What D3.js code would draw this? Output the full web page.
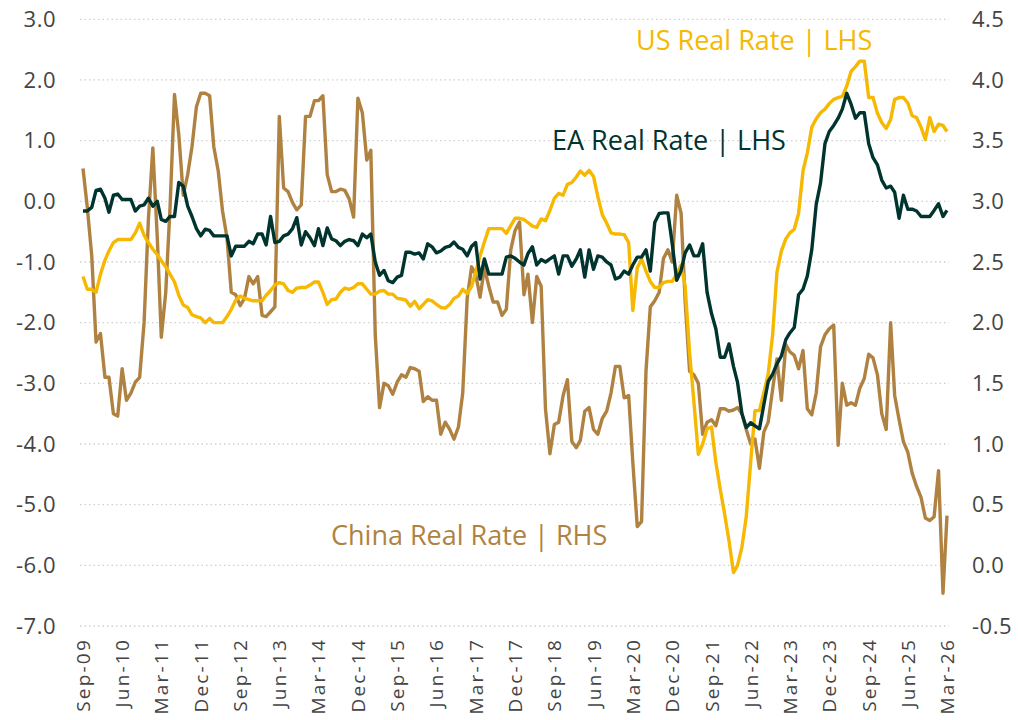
<!DOCTYPE html>
<html>
<head>
<meta charset="utf-8">
<script src="https://cdn.jsdelivr.net/npm/d3@7"></script>
<style>
  body { margin: 0; background: #fff; }
  svg text { font-family: "Open Sans", "Noto Sans", sans-serif; }
</style>
</head>
<body>
<script>
// monthly, Sep-09 .. Mar-26
var startMonth = new Date(2009, 8, 1);
var endMonth = new Date(2026, 2, 1);

var tickLabels = ["Sep-09","Jun-10","Mar-11","Dec-11","Sep-12","Jun-13","Mar-14","Dec-14","Sep-15","Jun-16",
  "Mar-17","Dec-17","Sep-18","Jun-19","Mar-20","Dec-20","Sep-21","Jun-22","Mar-23","Dec-23","Sep-24","Jun-25","Mar-26"];
var leftTicks = [3, 2, 1, 0, -1, -2, -3, -4, -5, -6, -7];
var rightTicks = [4.5, 4, 3.5, 3, 2.5, 2, 1.5, 1, 0.5, 0, -0.5];

// US real rate (LHS)
var usRate = [-1.24,-1.45,-1.45,-1.5,-1.2,-0.97,-0.82,-0.68,-0.63,-0.63,-0.63,-0.63,-0.52,-0.36,-0.56,-0.68,-0.79,-0.88,-0.98,-1.08,
  -1.2,-1.33,-1.55,-1.71,-1.75,-1.87,-1.9,-1.92,-2.0,-1.93,-2.0,-2.0,-2.0,-1.9,-1.78,-1.63,-1.56,-1.6,-1.62,-1.64,
  -1.64,-1.64,-1.55,-1.47,-1.38,-1.34,-1.36,-1.47,-1.5,-1.43,-1.42,-1.42,-1.38,-1.33,-1.33,-1.5,-1.7,-1.62,-1.61,-1.5,
  -1.43,-1.45,-1.42,-1.36,-1.36,-1.45,-1.53,-1.53,-1.48,-1.47,-1.53,-1.53,-1.6,-1.61,-1.63,-1.73,-1.65,-1.77,-1.7,-1.62,
  -1.64,-1.7,-1.75,-1.76,-1.7,-1.6,-1.56,-1.45,-1.52,-1.4,-1.17,-0.9,-0.67,-0.45,-0.45,-0.45,-0.45,-0.53,-0.4,-0.28,
  -0.28,-0.3,-0.35,-0.41,-0.43,-0.29,-0.32,-0.15,0.05,0.13,0.1,0.28,0.31,0.4,0.5,0.43,0.51,0.41,0.08,-0.22,
  -0.36,-0.52,-0.54,-0.54,-0.55,-0.68,-1.8,-1.1,-0.95,-1.15,-1.32,-1.42,-1.42,-1.34,-1.32,-1.32,-1.2,-1.05,-1.4,-2.5,
  -3.3,-4.17,-4.0,-3.75,-3.72,-4.3,-4.75,-5.15,-5.6,-6.12,-6.0,-5.7,-5.2,-4.3,-3.45,-3.45,-3.15,-2.85,-2.2,-1.17,
  -0.82,-0.62,-0.52,-0.46,-0.2,0.5,0.8,1.22,1.36,1.46,1.52,1.61,1.68,1.71,1.73,1.9,2.14,2.22,2.31,2.31,
  1.71,1.71,1.45,1.3,1.2,1.35,1.68,1.71,1.71,1.62,1.41,1.38,1.22,1.02,1.38,1.15,1.27,1.25,1.15];

// EA real rate (LHS)
var eaRate = [-0.16,-0.16,-0.1,0.18,0.2,0.05,-0.18,0.1,0.12,0.03,0.03,0.03,-0.16,-0.08,-0.06,0.05,-0.08,0.0,-0.3,-0.33,
  -0.25,-0.25,0.31,0.25,-0.08,-0.25,-0.45,-0.57,-0.46,-0.48,-0.57,-0.57,-0.57,-0.57,-0.9,-0.74,-0.74,-0.74,-0.66,-0.7,
  -0.54,-0.54,-0.72,-0.25,-0.68,-0.66,-0.57,-0.54,-0.45,-0.27,-0.72,-0.5,-0.6,-0.73,-0.45,-0.73,-0.44,-0.62,-0.65,-0.73,
  -0.66,-0.63,-0.65,-0.73,-0.54,-0.6,-0.54,-1.0,-1.22,-1.14,-1.31,-1.34,-1.25,-1.22,-0.84,-0.84,-0.87,-0.85,-0.95,-0.7,
  -0.75,-0.85,-0.82,-0.76,-0.74,-0.67,-0.76,-0.79,-0.9,-0.74,-0.68,-1.28,-0.95,-1.2,-1.2,-1.2,-1.2,-0.92,-0.9,-0.94,
  -1.0,-1.05,-0.86,-0.75,-1.05,-0.96,-1.0,-0.95,-0.9,-1.2,-0.9,-0.9,-1.07,-0.95,-0.8,-1.25,-0.8,-1.12,-0.9,-0.92,
  -1.0,-1.05,-1.28,-1.25,-1.15,-1.2,-1.05,-0.92,-0.92,-0.8,-1.15,-0.35,-0.2,-0.19,-0.19,-0.7,-1.3,-1.14,-0.85,-0.72,
  -0.9,-0.9,-0.7,-1.5,-1.85,-2.1,-2.57,-2.57,-2.35,-2.72,-2.98,-3.5,-3.73,-3.65,-3.7,-3.75,-3.35,-2.97,-2.85,-2.68,
  -2.55,-2.28,-2.17,-2.08,-1.54,-1.45,-1.23,-0.8,-0.05,0.3,0.95,1.15,1.25,1.37,1.52,1.78,1.6,1.37,1.46,1.46,
  0.95,0.72,0.6,0.35,0.22,0.25,0.15,-0.28,0.1,-0.13,-0.13,-0.16,-0.25,-0.25,-0.25,-0.15,-0.04,-0.25,-0.15];

// China real rate (RHS)
var chinaRate = [3.27,2.95,2.55,1.84,1.91,1.55,1.55,1.25,1.23,1.62,1.36,1.42,1.51,1.55,2.0,2.85,3.44,2.7,1.88,2.25,
  2.95,3.88,3.55,3.05,3.22,3.45,3.78,3.89,3.89,3.87,3.45,3.25,2.92,2.7,2.25,2.23,2.14,2.2,2.38,2.32,
  2.38,2.06,2.05,2.09,2.13,3.7,3.11,3.08,2.99,2.93,2.97,3.7,3.7,3.83,3.83,3.87,3.22,3.08,3.08,3.1,
  3.09,3.02,2.87,3.85,3.73,3.34,3.42,1.9,1.3,1.5,1.48,1.41,1.51,1.57,1.55,1.63,1.62,1.6,1.35,1.39,
  1.36,1.36,1.08,1.18,1.12,1.04,1.14,1.42,2.2,2.46,2.4,2.21,2.45,2.3,2.17,2.17,2.06,2.11,2.6,2.76,
  2.83,2.23,2.4,2.0,2.38,2.3,1.29,0.92,1.16,1.18,1.4,1.53,1.02,0.97,1.03,1.27,1.3,1.12,1.08,1.21,
  1.27,1.42,1.64,1.64,1.38,1.4,0.85,0.32,0.36,1.6,2.13,2.18,2.25,2.53,2.6,2.5,3.05,2.9,2.18,1.6,
  1.57,1.5,1.08,1.18,1.2,1.15,1.29,1.29,1.27,1.28,1.3,1.25,1.12,1.0,1.04,0.8,1.1,1.18,1.45,1.7,
  1.36,1.82,1.76,1.73,1.62,1.77,1.29,1.24,1.42,1.8,1.9,1.95,1.98,0.99,1.5,1.32,1.34,1.32,1.46,1.54,
  1.74,1.71,1.57,1.25,1.12,2.0,1.4,1.2,1.02,0.93,0.76,0.65,0.56,0.39,0.37,0.4,0.78,-0.23,0.41];

var months = d3.timeMonth.range(startMonth, d3.timeMonth.offset(endMonth, 1));

var width = 1018, height = 720;
var plotLeft = 83, plotRight = 947, plotTop = 19.3, plotBottom = 626;

var svg = d3.select("body").append("svg")
  .attr("width", width)
  .attr("height", height);

var x = d3.scaleTime().domain([startMonth, endMonth]).range([plotLeft, plotRight]);
var yL = d3.scaleLinear().domain([-7, 3]).range([plotBottom, plotTop]);
var yR = d3.scaleLinear().domain([-0.5, 4.5]).range([plotBottom, plotTop]);

// plain hyphen for negatives, like the original
var fmt = function (d) { return d.toFixed(1); };

// gridlines
svg.append("g").selectAll("line")
  .data(leftTicks)
  .enter().append("line")
  .attr("x1", 80).attr("x2", 949)
  .attr("y1", function (d) { return yL(d); })
  .attr("y2", function (d) { return yL(d); })
  .attr("stroke", "#cfcfcf")
  .attr("stroke-width", 1.3)
  .attr("stroke-dasharray", "1.5,3");

// left axis
var axL = svg.append("g")
  .attr("transform", "translate(56,0)")
  .call(d3.axisLeft(yL).tickValues(leftTicks).tickFormat(fmt).tickSize(0).tickPadding(0));
axL.select(".domain").remove();
axL.selectAll("text").attr("font-size", 22).attr("fill", "#444").attr("font-family", "Open Sans")
  .attr("letter-spacing", 0.5);

// right axis
var axR = svg.append("g")
  .attr("transform", "translate(972,0)")
  .call(d3.axisRight(yR).tickValues(rightTicks).tickFormat(fmt).tickSize(0).tickPadding(0));
axR.select(".domain").remove();
axR.selectAll("text").attr("font-size", 22).attr("fill", "#444").attr("font-family", "Open Sans")
  .attr("letter-spacing", 0.5);

// x labels, every 9 months
var tickDates = tickLabels.map(function (d, i) { return d3.timeMonth.offset(startMonth, i * 9); });
svg.append("g").selectAll("text")
  .data(tickDates)
  .enter().append("text")
  .attr("transform", function (d) { return "translate(" + (x(d) + 7) + ",638) rotate(-90)"; })
  .attr("text-anchor", "end")
  .attr("font-size", 19)
  .attr("letter-spacing", 2.2)
  .attr("fill", "#444")
  .text(function (d, i) { return tickLabels[i]; });

function drawLine(values, scale, color) {
  var line = d3.line()
    .x(function (d, i) { return x(months[i]); })
    .y(function (d) { return scale(d); });
  svg.append("path")
    .datum(values)
    .attr("d", line)
    .attr("fill", "none")
    .attr("stroke", color)
    .attr("stroke-width", 3.4)
    .attr("stroke-linejoin", "round");
}

drawLine(chinaRate, yR, "#b08241");
drawLine(usRate, yL, "#f6b800");
drawLine(eaRate, yL, "#00342e");

// series labels
svg.append("text").attr("x", 636).attr("y", 50).attr("font-size", 27).attr("fill", "#f6b800")
  .text("US Real Rate | LHS");
svg.append("text").attr("x", 552).attr("y", 150).attr("font-size", 27).attr("fill", "#00342e")
  .text("EA Real Rate | LHS");
svg.append("text").attr("x", 331).attr("y", 545).attr("font-size", 27).attr("fill", "#b08241")
  .text("China Real Rate | RHS");
</script>
</body>
</html>
